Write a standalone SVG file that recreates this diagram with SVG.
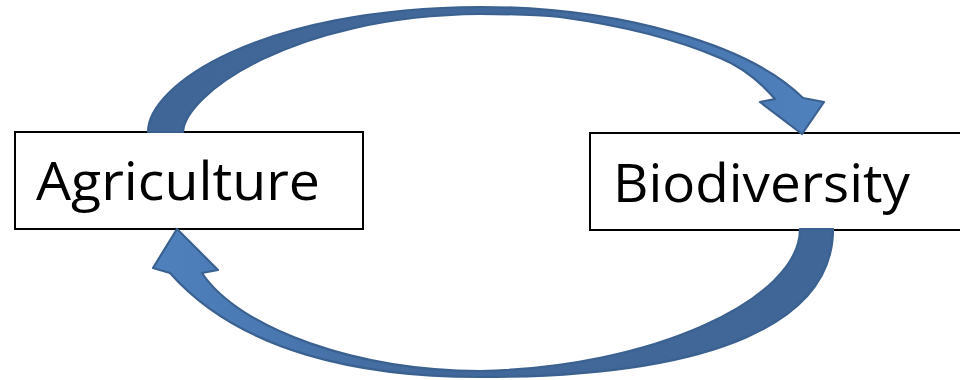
<svg xmlns="http://www.w3.org/2000/svg" width="960" height="380" viewBox="0 0 960 380">
  <style>
    .box { fill: #ffffff; stroke: #000000; stroke-width: 2; }
    .label { font-family: "Open Sans", "Liberation Sans", sans-serif; font-size: 53px; fill: #000000; }
    .arrow { stroke: #3b6190; stroke-width: 2.2; stroke-linejoin: round; }
  </style>
  <defs>
    <linearGradient id="gradTop" gradientUnits="userSpaceOnUse" x1="150" y1="0" x2="820" y2="0">
      <stop offset="0" stop-color="#3f6696"/>
      <stop offset="0.6" stop-color="#42699b"/>
      <stop offset="0.82" stop-color="#4a79b3"/>
      <stop offset="1" stop-color="#4f81bd"/>
    </linearGradient>
    <linearGradient id="gradBottom" gradientUnits="userSpaceOnUse" x1="830" y1="0" x2="150" y2="0">
      <stop offset="0" stop-color="#3f6696"/>
      <stop offset="0.6" stop-color="#42699b"/>
      <stop offset="0.84" stop-color="#4a79b3"/>
      <stop offset="1" stop-color="#4f81bd"/>
    </linearGradient>
  </defs>

  <g id="node-agriculture">
    <rect class="box" x="15" y="132" width="348" height="97"/>
    <text class="label" x="36" y="200" textLength="284" lengthAdjust="spacingAndGlyphs">Agriculture</text>
  </g>

  <g id="node-biodiversity">
    <rect class="box" x="590" y="133" width="380" height="97"/>
    <text class="label" x="613" y="202" textLength="297" lengthAdjust="spacingAndGlyphs">Biodiversity</text>
  </g>

  <g id="connectors">
    <!-- Agriculture to Biodiversity, over the top -->
    <path id="arrow-top" class="arrow" fill="url(#gradTop)"
      d="M148,132 C148,85 260,8 480,7 C620,7 750,45 803,98 L824,102 L802,134 L760,102 L775,99
         C762,84 745,68 720,58 C690,45 640,28 560,17 C530,14 505,14 480,14 C290,16 185,95 183,132 Z"/>
    <!-- Biodiversity to Agriculture, along the bottom -->
    <path id="arrow-bottom" class="arrow" fill="url(#gradBottom)"
      d="M833,229 C833,320 720,377 480,377 C360,377 240,352 170,273 L153,268 L177,229 L218,270 L202,273
         C240,330 360,371 480,371 C650,368 800,300 800,229 Z"/>
  </g>
</svg>
